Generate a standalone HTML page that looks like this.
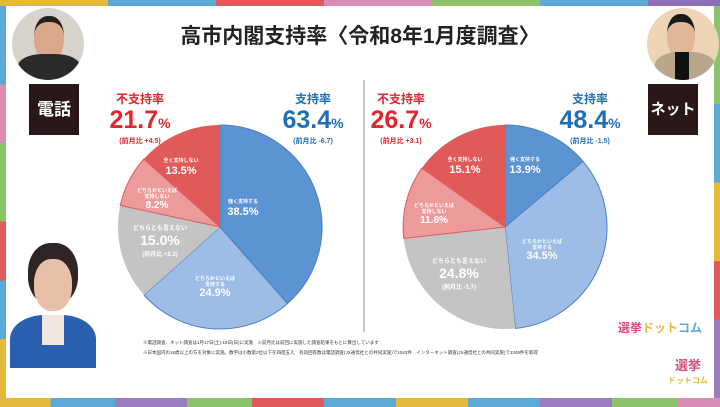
<!DOCTYPE html>
<html><head><meta charset="utf-8"><style>
body{margin:0;width:720px;height:407px;overflow:hidden;background:#fff;font-family:"Liberation Sans","Noto Sans CJK JP",sans-serif;}
.abs{position:absolute}
</style></head><body>
<div class="abs" style="left:0;top:0;width:720px;height:407px;background:#fff"></div>
<div class="abs" style="left:0;top:0;width:720px;height:6px;background:linear-gradient(90deg,#e4b93a 0 15%,#5aa9d6 15% 30%,#e05a5a 30% 45%,#d98cb6 45% 60%,#8bc36a 60% 75%,#5aa9d6 75% 90%,#8a6fb8 90%)"></div>
<div class="abs" style="left:0;top:398px;width:720px;height:9px;background:linear-gradient(90deg,#e4b93a 0 7%,#5aa9d6 7% 16%,#9b7cc0 16% 26%,#8bc36a 26% 35%,#e05a5a 35% 45%,#5aa9d6 45% 55%,#e4b93a 55% 65%,#5aa9d6 65% 75%,#9b7cc0 75% 85%,#8bc36a 85% 94%,#d98cb6 94%)"></div>
<div class="abs" style="left:0;top:6px;width:6px;height:392px;background:linear-gradient(180deg,#5aa9d6 0 20%,#d98cb6 20% 35%,#8bc36a 35% 55%,#e05a5a 55% 70%,#5aa9d6 70% 85%,#e4b93a 85%)"></div>
<div class="abs" style="left:714px;top:6px;width:6px;height:392px;background:linear-gradient(180deg,#8bc36a 0 25%,#5aa9d6 25% 45%,#e4b93a 45% 65%,#e05a5a 65% 80%,#9b7cc0 80%)"></div>

<div class="abs" style="left:12px;top:8px;width:72px;height:72px;border-radius:50%;overflow:hidden;background:#d7d2cc">
 <div class="abs" style="left:22px;top:8px;width:30px;height:38px;border-radius:45%;background:#d9a888;border-top:6px solid #222"></div>
 <div class="abs" style="left:6px;top:46px;width:62px;height:30px;border-radius:40% 40% 0 0;background:#2a2a2a"></div>
</div>
<div class="abs" style="left:647px;top:8px;width:72px;height:72px;border-radius:50%;overflow:hidden;background:#ecd4b4">
 <div class="abs" style="left:20px;top:6px;width:28px;height:36px;border-radius:45%;background:#e0b898;border-top:8px solid #1a1a1a"></div>
 <div class="abs" style="left:8px;top:44px;width:60px;height:32px;border-radius:40% 40% 0 0;background:#b7a58c"></div>
 <div class="abs" style="left:28px;top:44px;width:14px;height:32px;background:#111"></div>
</div>
<div class="abs" style="left:29px;top:84px;width:50px;height:51px;background:#2a1717;color:#fff;font-weight:bold;font-size:17px;line-height:51px;text-align:center">電話</div>
<div class="abs" style="left:648px;top:84px;width:50px;height:51px;background:#2a1717;color:#fff;font-weight:bold;font-size:15px;line-height:51px;text-align:center">ネット</div>
<div class="abs" style="left:10px;top:235px;width:86px;height:133px;overflow:hidden;background:#fff">
 <div class="abs" style="left:18px;top:8px;width:50px;height:62px;border-radius:45%;background:#2e2626"></div>
 <div class="abs" style="left:24px;top:24px;width:38px;height:52px;border-radius:45%;background:#e8c0a8"></div>
 <div class="abs" style="left:0;top:80px;width:86px;height:60px;border-radius:40% 40% 0 0;background:#2a5fb0"></div>
 <div class="abs" style="left:32px;top:80px;width:22px;height:30px;background:#f2e6dc"></div>
</div>

<div class="abs" style="left:0;top:20px;width:720px;text-align:center;font-size:21px;font-weight:bold;color:#222">高市内閣支持率〈令和8年1月度調査〉</div>

<div class="abs" style="left:105px;top:90px;width:70px;text-align:center;color:#e0262e;font-weight:bold">
<div style="font-size:12px">不支持率</div><div style="font-size:25px;line-height:26px">21.7<span style="font-size:14px">%</span></div><div style="font-size:7px">(前月比 +4.5)</div></div>
<div class="abs" style="left:278px;top:90px;width:70px;text-align:center;color:#1f6fb8;font-weight:bold">
<div style="font-size:12px">支持率</div><div style="font-size:25px;line-height:26px">63.4<span style="font-size:14px">%</span></div><div style="font-size:7px">(前月比 -6.7)</div></div>
<div class="abs" style="left:366px;top:90px;width:70px;text-align:center;color:#e0262e;font-weight:bold">
<div style="font-size:12px">不支持率</div><div style="font-size:25px;line-height:26px">26.7<span style="font-size:14px">%</span></div><div style="font-size:7px">(前月比 +3.1)</div></div>
<div class="abs" style="left:555px;top:90px;width:70px;text-align:center;color:#1f6fb8;font-weight:bold">
<div style="font-size:12px">支持率</div><div style="font-size:25px;line-height:26px">48.4<span style="font-size:14px">%</span></div><div style="font-size:7px">(前月比 -1.5)</div></div>

<svg class="abs" style="left:0;top:0" width="720" height="407" font-family="Liberation Sans,Noto Sans CJK JP,sans-serif" font-weight="bold" text-anchor="middle">
<line x1="364" y1="80" x2="364" y2="332" stroke="#888" stroke-width="1"/>
<g stroke="#4a7fc0" stroke-width="1">
<path d="M220,227 L220,125 A102,102 0 0 1 287.5,303.5 Z" fill="#5b93d3"/>
<path d="M220,227 L287.5,303.5 A102,102 0 0 1 144,295 Z" fill="#9dbde6"/>
</g>
<path d="M220,227 L144,295 A102,102 0 0 1 120.3,205.4 Z" fill="#c4c4c4"/>
<path d="M220,227 L120.3,205.4 A102,102 0 0 1 143.8,159.1 Z" fill="#ec9a9a" stroke="#e05a5a"/>
<path d="M220,227 L143.8,159.1 A102,102 0 0 1 220,125 Z" fill="#e05a5a"/>

<g stroke="#4a7fc0" stroke-width="1">
<path d="M505,227 L505,125 A102,102 0 0 1 583.1,161.4 Z" fill="#5b93d3"/>
<path d="M505,227 L583.1,161.4 A102,102 0 0 1 515.3,328.5 Z" fill="#9dbde6"/>
</g>
<path d="M505,227 L515.3,328.5 A102,102 0 0 1 403.7,238.5 Z" fill="#c4c4c4"/>
<path d="M505,227 L403.7,238.5 A102,102 0 0 1 421.8,168.1 Z" fill="#ec9a9a" stroke="#e05a5a"/>
<path d="M505,227 L421.8,168.1 A102,102 0 0 1 505,125 Z" fill="#e05a5a"/>

<g fill="#fff">
<text x="181" y="162" font-size="5">全く支持しない</text><text x="181" y="174" font-size="11">13.5%</text>
<text x="157" y="192" font-size="5">どちらかといえば</text><text x="157" y="198" font-size="5">支持しない</text><text x="157" y="208" font-size="10">8.2%</text>
<text x="243" y="203" font-size="5">強く支持する</text><text x="243" y="215" font-size="11">38.5%</text>
<text x="215" y="280" font-size="5">どちらかといえば</text><text x="215" y="286" font-size="5">支持する</text><text x="215" y="296" font-size="11">24.9%</text>
<text x="160" y="230" font-size="6">どちらとも言えない</text><text x="160" y="245" font-size="14">15.0%</text><text x="160" y="256" font-size="6">(前月比 +2.3)</text>
<text x="465" y="161" font-size="5">全く支持しない</text><text x="465" y="173" font-size="11">15.1%</text>
<text x="525" y="161" font-size="5">強く支持する</text><text x="525" y="173" font-size="11">13.9%</text>
<text x="434" y="207" font-size="5">どちらかといえば</text><text x="434" y="213" font-size="5">支持しない</text><text x="434" y="223" font-size="10">11.6%</text>
<text x="542" y="243" font-size="5">どちらかといえば</text><text x="542" y="249" font-size="5">支持する</text><text x="542" y="259" font-size="11">34.5%</text>
<text x="459" y="263" font-size="6">どちらとも言えない</text><text x="459" y="278" font-size="14">24.8%</text><text x="459" y="289" font-size="6">(前月比 -1.7)</text>
</g>
<g font-size="4.5" fill="#333" font-weight="normal" text-anchor="start">
<text x="143" y="344">※電話調査、ネット調査は1月17日(土)-18日(日)に実施　※前月比は前回に実施した調査結果をもとに算出しています</text>
<text x="143" y="354">※日本国内の18歳以上の方を対象に実施。数字は小数第2位以下を四捨五入　有効回答数は電話調査(JX通信社との共同実施)で1043件　インターネット調査(JX通信社との共同実施)で1349件を取得</text>
</g>
<text x="660" y="332" font-size="12" fill="#d94a7a">選挙<tspan fill="#e4b93a">ドット</tspan><tspan fill="#5aa9d6">コム</tspan></text>
<text x="688" y="370" font-size="13" fill="#d94a7a">選挙</text>
<text x="688" y="383" font-size="8" fill="#e4b93a">ドットコム</text>
</svg>
</body></html>
